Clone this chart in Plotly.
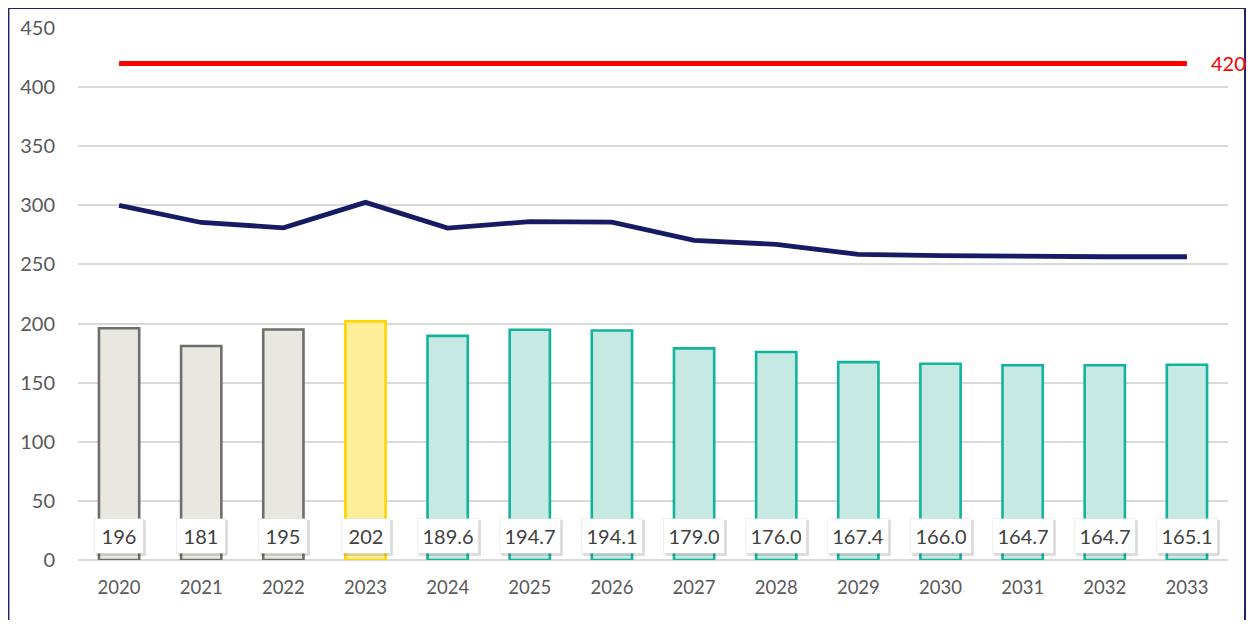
import plotly.graph_objects as go

years = ["2020", "2021", "2022", "2023", "2024", "2025", "2026",
         "2027", "2028", "2029", "2030", "2031", "2032", "2033"]
bar_values = [196, 181, 195, 202, 189.6, 194.7, 194.1,
              179.0, 176.0, 167.4, 166.0, 164.7, 164.7, 165.1]
bar_labels = ["196", "181", "195", "202", "189.6", "194.7", "194.1",
              "179.0", "176.0", "167.4", "166.0", "164.7", "164.7", "165.1"]
line_values = [300, 285.5, 281, 302.5, 280.8, 286.2, 285.8,
               270.3, 267.0, 258.5, 257.5, 256.6, 256.5, 256.5]
limit_value = 420
limit_values = [limit_value] * len(years)
y_ticks = [0, 50, 100, 150, 200, 250, 300, 350, 400, 450]

# bar styling by period: historical / current year / forecast
fills = []
edges = []
for y in years:
    yr = int(y)
    if yr < 2023:
        fills.append("#E8E8E0"); edges.append("#6E6E6E")
    elif yr == 2023:
        fills.append("#FFEE99"); edges.append("#FFD500")
    else:
        fills.append("#C6E9E3"); edges.append("#13B39C")

FONT = "Lato, 'Open Sans', sans-serif"

fig = go.Figure()
fig.add_trace(go.Bar(
    x=years, y=bar_values, width=0.49,
    marker=dict(color=fills, line=dict(color=edges, width=2.6)),
    hoverinfo="x+y", showlegend=False,
))
fig.add_trace(go.Scatter(
    x=years, y=line_values, mode="lines",
    line=dict(color="#161C63", width=4.8),
    showlegend=False,
))
fig.add_trace(go.Scatter(
    x=years, y=limit_values, mode="lines",
    line=dict(color="#FF0000", width=5),
    showlegend=False,
))

annotations = []
# soft shadow boxes behind the data labels
for i, lab in enumerate(bar_labels):
    annotations.append(dict(
        x=i, y=20.7, xref="x", yref="y", text=lab, showarrow=False,
        xshift=2, yshift=-2,
        font=dict(family=FONT, size=20, color="rgba(0,0,0,0)"),
        bgcolor="rgba(0,0,0,0.14)", borderwidth=1,
        bordercolor="rgba(0,0,0,0.06)",
        borderpad=5, width=(38 if len(lab) <= 3 else 50),
    ))
for i, lab in enumerate(bar_labels):
    annotations.append(dict(
        x=i, y=20.7, xref="x", yref="y", text=lab, showarrow=False,
        font=dict(family=FONT, size=20, color="#404040"),
        bgcolor="white", bordercolor="rgba(0,0,0,0.06)", borderwidth=1,
        borderpad=5, width=(38 if len(lab) <= 3 else 50),
    ))
annotations.append(dict(
    x=len(years) - 0.5, y=limit_value, xref="x", yref="y",
    text=str(limit_value), showarrow=False, xanchor="center",
    font=dict(family=FONT, size=20, color="#FF0000"),
))

fig.update_layout(
    width=1238, height=612,
    margin=dict(l=70, r=18, t=20, b=60, autoexpand=False),
    paper_bgcolor="white", plot_bgcolor="white",
    bargap=0.5,
    annotations=annotations,
    shapes=[dict(type="rect", xref="paper", yref="paper",
                 x0=-0.0605, x1=1.0148, y0=-0.3, y1=1.0375,
                 line=dict(color="#20226A", width=2), layer="below")],
    xaxis=dict(
        type="category", range=[-0.5, 13.5], showgrid=False,
        showline=False, zeroline=False, ticks="", automargin=False,
        tickfont=dict(family=FONT, size=18.5, color="#595959"),
        ticklabelstandoff=14,
    ),
    yaxis=dict(
        range=[0, 450], tickvals=y_ticks, showgrid=True,
        gridcolor="#D9D9D9", gridwidth=1.5, zeroline=True,
        zerolinecolor="#D9D9D9", zerolinewidth=1.5, showline=False,
        ticks="", automargin=False,
        tickfont=dict(family=FONT, size=20, color="#595959"),
        ticklabelstandoff=22,
    ),
)

fig.write_html("out.html")
